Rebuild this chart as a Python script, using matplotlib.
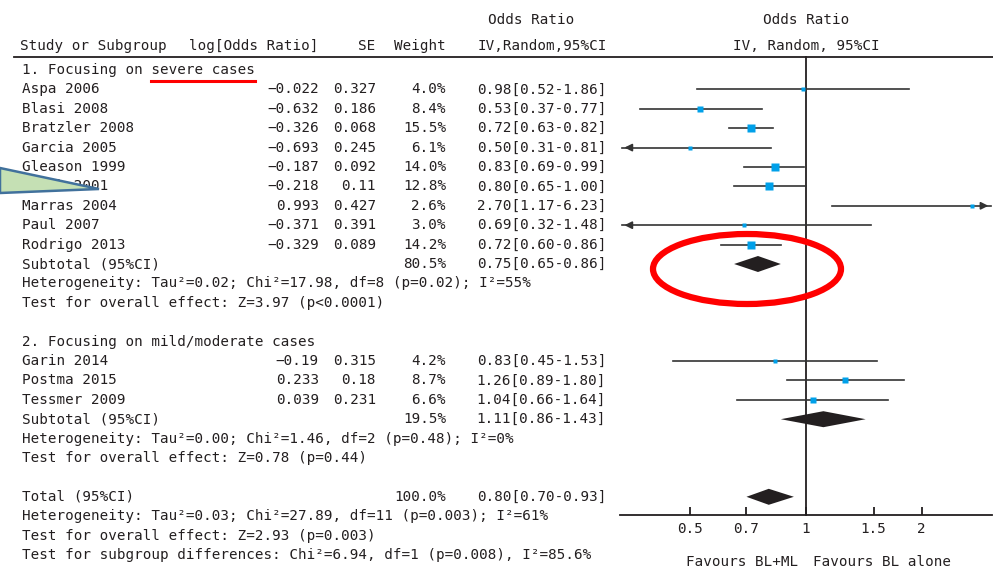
import numpy as np
import matplotlib.pyplot as plt
from matplotlib.patches import Ellipse, Polygon

plt.rcParams['font.family'] = ['DejaVu Sans Mono', 'DejaVu Sans']

# group 1: severe cases
studies1 = ['Aspa 2006', 'Blasi 2008', 'Bratzler 2008', 'Garcia 2005', 'Gleason 1999',
            'Houck 2001', 'Marras 2004', 'Paul 2007', 'Rodrigo 2013']
log_or1 = [-0.022, -0.632, -0.326, -0.693, -0.187, -0.218, 0.993, -0.371, -0.329]
se1 = [0.327, 0.186, 0.068, 0.245, 0.092, 0.11, 0.427, 0.391, 0.089]
weight1 = [4.0, 8.4, 15.5, 6.1, 14.0, 12.8, 2.6, 3.0, 14.2]
or1 = [0.98, 0.53, 0.72, 0.50, 0.83, 0.80, 2.70, 0.69, 0.72]
lo1 = [0.52, 0.37, 0.63, 0.31, 0.69, 0.65, 1.17, 0.32, 0.60]
hi1 = [1.86, 0.77, 0.82, 0.81, 0.99, 1.00, 6.23, 1.48, 0.86]

# group 2: mild/moderate cases
studies2 = ['Garin 2014', 'Postma 2015', 'Tessmer 2009']
log_or2 = [-0.19, 0.233, 0.039]
se2 = [0.315, 0.18, 0.231]
weight2 = [4.2, 8.7, 6.6]
or2 = [0.83, 1.26, 1.04]
lo2 = [0.45, 0.89, 0.66]
hi2 = [1.53, 1.80, 1.64]

# subtotals and total
pooled_w = [80.5, 19.5, 100.0]
pooled_or = [0.75, 1.11, 0.80]
pooled_lo = [0.65, 0.86, 0.70]
pooled_hi = [0.86, 1.43, 0.93]

het1 = 'Heterogeneity: Tau²=0.02; Chi²=17.98, df=8 (p=0.02); I²=55%'
test1 = 'Test for overall effect: Z=3.97 (p<0.0001)'
het2 = 'Heterogeneity: Tau²=0.00; Chi²=1.46, df=2 (p=0.48); I²=0%'
test2 = 'Test for overall effect: Z=0.78 (p=0.44)'
het_t = 'Heterogeneity: Tau²=0.03; Chi²=27.89, df=11 (p=0.003); I²=61%'
test_t = 'Test for overall effect: Z=2.93 (p=0.003)'
test_sub = 'Test for subgroup differences: Chi²=6.94, df=1 (p=0.008), I²=85.6%'

xticks = [0.5, 0.7, 1, 1.5, 2]
xtick_labels = ['0.5', '0.7', '1', '1.5', '2']
x_range = (0.328, 3.05)

TXT = '#231f20'
LINE = '#333333'
BLUE = '#00a0e9'
FS = 10.3

fig = plt.figure(figsize=(9.93, 5.69), dpi=100)

# forest panel (log scale), y in pixel rows
fa = fig.add_axes([620 / 993, 0, 372 / 993, 1])
fa.set_xscale('log')
fa.set_xlim(*x_range)
fa.set_ylim(569, 0)
fa.patch.set_alpha(0)

# overlay for text and annotations
bg = fig.add_axes([0, 0, 1, 1])
bg.set_xlim(0, 993)
bg.set_ylim(569, 0)
bg.axis('off')
bg.patch.set_alpha(0)

row0, step = 70, 19.4
def ry(i):
    return row0 + step * i

def fmt(v):
    return str(v).replace('-', '\u2212')

def txt(x, y, s, ha='left', **kw):
    return bg.text(x, y, s, ha=ha, va='center', fontsize=FS, color=TXT, **kw)

# headers
txt(531, 20, 'Odds Ratio', ha='center')
txt(806, 20, 'Odds Ratio', ha='center')
txt(20, 46, 'Study or Subgroup')
txt(318, 46, 'log[Odds Ratio]', ha='right')
txt(375, 46, 'SE', ha='right')
txt(446, 46, 'Weight', ha='right')
txt(607, 46, 'IV,Random,95%CI', ha='right')
txt(806, 46, 'IV, Random, 95%CI', ha='center')
bg.plot([14, 993], [57, 57], color=TXT, lw=1.3)

def draw_study(i, name, lor, se, w, o, lo, hi):
    y = ry(i)
    txt(22, y, name)
    txt(319, y, fmt(lor), ha='right')
    txt(376, y, fmt(se), ha='right')
    txt(446, y, f'{w:.1f}%', ha='right')
    txt(606, y, f'{o:.2f}[{lo:.2f}-{hi:.2f}]', ha='right')
    xmin, xmax = fa.get_xlim()
    a, b = max(lo, xmin * 1.01), min(hi, xmax * 0.995)
    fa.plot([a, b], [y, y], color=LINE, lw=1.2, zorder=2)
    if lo < xmin:
        fa.annotate('', xy=(a, y), xytext=(a * 1.08, y),
                    arrowprops=dict(arrowstyle='-|>', color=LINE, lw=1.2, mutation_scale=11))
    if hi > xmax:
        fa.annotate('', xy=(b, y), xytext=(b / 1.08, y),
                    arrowprops=dict(arrowstyle='-|>', color=LINE, lw=1.2, mutation_scale=11))
    fa.plot(o, y, 's', ms=2.0 * np.sqrt(w) * 0.72, color=BLUE, mec='none', zorder=3)

def draw_pooled(i, label, k):
    y = ry(i)
    txt(22, y, label)
    txt(446, y, f'{pooled_w[k]:.1f}%', ha='right')
    txt(606, y, f'{pooled_or[k]:.2f}[{pooled_lo[k]:.2f}-{pooled_hi[k]:.2f}]', ha='right')
    fa.fill([pooled_lo[k], pooled_or[k], pooled_hi[k], pooled_or[k]],
            [y, y - 8, y, y + 8], color=TXT, lw=0, zorder=3)

# group 1
title1 = '1. Focusing on severe cases'
t1 = txt(22, ry(0), title1)
for j in range(len(studies1)):
    draw_study(1 + j, studies1[j], log_or1[j], se1[j], weight1[j], or1[j], lo1[j], hi1[j])
draw_pooled(10, 'Subtotal (95%CI)', 0)
txt(22, ry(11), het1)
txt(22, ry(12), test1)

# group 2
txt(22, ry(14), '2. Focusing on mild/moderate cases')
for j in range(len(studies2)):
    draw_study(15 + j, studies2[j], log_or2[j], se2[j], weight2[j], or2[j], lo2[j], hi2[j])
draw_pooled(18, 'Subtotal (95%CI)', 1)
txt(22, ry(19), het2)
txt(22, ry(20), test2)

# overall
draw_pooled(22, 'Total (95%CI)', 2)
txt(22, ry(23), het_t)
txt(22, ry(24), test_t)
txt(22, ry(25), test_sub)

# line of no effect and axis
fa.plot([1, 1], [57, 515], color=TXT, lw=1.3, zorder=1)
for s in ['left', 'right', 'top']:
    fa.spines[s].set_visible(False)
fa.spines['bottom'].set_position(('data', 515))
fa.spines['bottom'].set_color(TXT)
fa.spines['bottom'].set_linewidth(1.3)
fa.set_yticks([])
fa.set_xticks(xticks)
fa.set_xticklabels(xtick_labels)
fa.minorticks_off()
fa.tick_params(axis='x', direction='in', length=6, width=1.3, pad=5,
               labelsize=FS, colors=TXT)

txt(798, 562, 'Favours BL+ML', ha='right')
txt(813, 562, 'Favours BL alone')

# red underline under "severe cases" (monospace: width per char)
fig.canvas.draw()
bb = t1.get_window_extent().transformed(bg.transData.inverted())
x0, x1 = min(bb.x0, bb.x1), max(bb.x0, bb.x1)
cw = (x1 - x0) / len(title1)
k = title1.index('severe')
bg.plot([x0 + k * cw, x1], [81, 81], color='red', lw=2.2)

# annotations
bg.add_patch(Ellipse((747, 269), 188, 70, fill=False, ec='red', lw=4.5, zorder=5))
bg.add_patch(Polygon([(0, 168), (99, 189), (0, 193)], closed=True,
                     fc='#c5e0b4', ec='#41719c', lw=1.8, zorder=6))

fig.savefig('out.png', dpi=100)
